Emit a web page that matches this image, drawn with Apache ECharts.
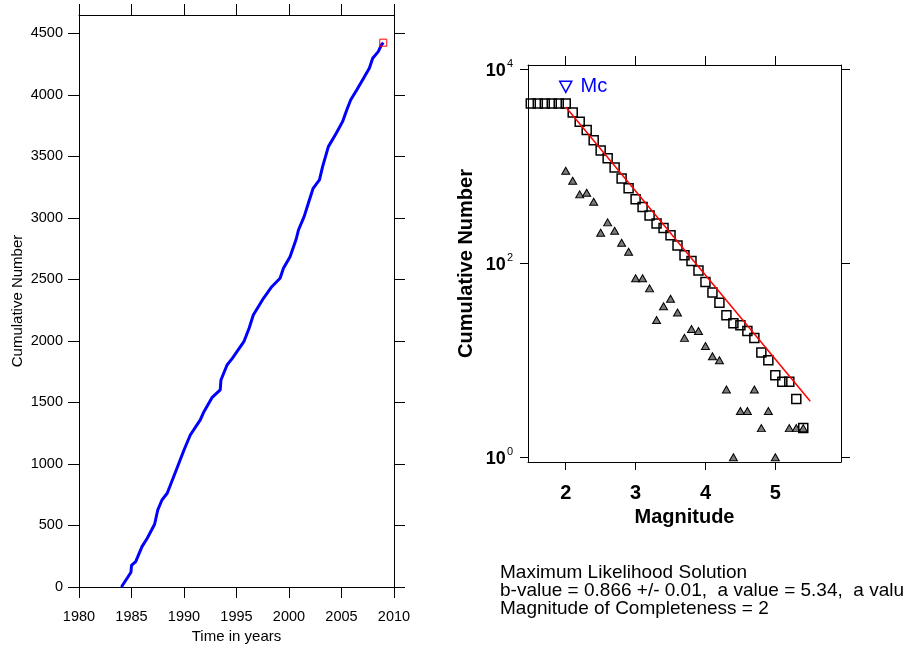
<!DOCTYPE html>
<html><head><meta charset="utf-8">
<script src="https://cdn.jsdelivr.net/npm/echarts@6/dist/echarts.min.js"></script>
<style>html,body{margin:0;padding:0;background:#fff}#c{width:904px;height:647px}</style>
</head><body><div id="c"></div>
<script>
// ---- Left panel: cumulative number of events vs time ----
const years = [1984.04, 1984.95, 1985.0, 1985.4, 1986.0, 1986.5, 1987.2, 1987.5, 1987.9, 1988.4, 1989.2, 1990.0, 1990.6, 1991.55, 1991.9, 1992.66, 1993.45, 1993.52, 1994.1, 1994.6, 1995.7, 1996.2, 1996.6, 1997.57, 1998.36, 1999.15, 1999.47, 2000.1, 2000.68, 2000.9, 2001.44, 2001.94, 2002.3, 2002.9, 2003.2, 2003.75, 2004.5, 2005.1, 2005.5, 2005.87, 2006.45, 2007.1, 2007.65, 2007.97, 2008.5, 2008.8, 2008.98];
const cumEvents = [0, 120, 175, 206, 328, 396, 510, 626, 707, 762, 937, 1114, 1236, 1358, 1425, 1539, 1602, 1683, 1805, 1859, 1994, 2103, 2211, 2347, 2441, 2510, 2591, 2685, 2827, 2902, 3011, 3146, 3241, 3309, 3417, 3580, 3688, 3783, 3878, 3959, 4041, 4136, 4217, 4298, 4352, 4406, 4425];
const lastEvent = [2008.98, 4425];
const yearTicks = [1980, 1985, 1990, 1995, 2000, 2005, 2010];
const countTicks = [0, 500, 1000, 1500, 2000, 2500, 3000, 3500, 4000, 4500];

// ---- Right panel: frequency-magnitude distribution ----
const magnitudes = [1.5, 1.6, 1.7, 1.8, 1.9, 2.0, 2.1, 2.2, 2.3, 2.4, 2.5, 2.6, 2.7, 2.8, 2.9, 3.0, 3.1, 3.2, 3.3, 3.4, 3.5, 3.6, 3.7, 3.8, 3.9, 4.0, 4.1, 4.2, 4.3, 4.4, 4.5, 4.6, 4.7, 4.8, 4.9, 5.0, 5.1, 5.2, 5.3, 5.4];
const cumulativeNumber = [4425, 4425, 4425, 4425, 4425, 4425, 3560, 2870, 2360, 1845, 1445, 1205, 970, 745, 590, 455, 380, 310, 256, 230, 194, 152, 121, 105, 84, 64, 50, 39, 29, 24, 23, 20, 17, 12, 10, 7, 6, 6, 4, 2];
const binMagnitudes = [2.0, 2.1, 2.2, 2.3, 2.4, 2.5, 2.6, 2.7, 2.8, 2.9, 3.0, 3.1, 3.2, 3.3, 3.4, 3.5, 3.6, 3.7, 3.8, 3.9, 4.0, 4.1, 4.2, 4.3, 4.4, 4.5, 4.6, 4.7, 4.8, 4.9, 5.0, 5.2, 5.3, 5.4];
const binNumber = [895, 706, 511, 531, 429, 206, 263, 216, 162, 131, 70, 70, 55, 26, 36, 43, 31, 17, 21, 20, 14, 11, 10, 5, 1, 3, 3, 5, 2, 3, 1, 2, 2, 2];
const fitMag = [2.0, 5.5];
const fitNumber = [4055, 3.78];
const mcPoint = [2.0, 6560];
const magTicks = [2, 3, 4, 5];
const logTickExponents = [0, 2, 4];
const infoLines = [
  'Maximum Likelihood Solution',
  'b-value = 0.866 +/- 0.01,  a value = 5.34,  a valu',
  'Magnitude of Completeness = 2'
];

const FONT = '"Liberation Sans", Arial, Helvetica, sans-serif';
const logMin = 0.895, logMax = 11000;
const magMin = 1.46, magMax = 5.94;

function boxAxis(extra) {
  return Object.assign({
    axisLine: { show: true, onZero: false, lineStyle: { color: '#000', width: 1 } },
    axisTick: { show: true, inside: false, length: 10, lineStyle: { color: '#000', width: 1 } },
    splitLine: { show: false },
    axisLabel: { show: false }
  }, extra);
}

const chart = echarts.init(document.getElementById('c'), null, { renderer: 'canvas' });
chart.setOption({
  animation: false,
  backgroundColor: '#fff',
  textStyle: { fontFamily: FONT },
  grid: [
    { left: 79, top: 15, width: 315, height: 572, containLabel: false, outerBoundsMode: 'none' },
    { left: 528, top: 65, width: 313, height: 397, containLabel: false, outerBoundsMode: 'none' }
  ],
  xAxis: [
    boxAxis({ type: 'value', gridIndex: 0, position: 'bottom', min: 1980, max: 2010,
      name: 'Time in years', nameLocation: 'middle', nameGap: 42,
      nameTextStyle: { fontSize: 15, color: '#000', fontFamily: FONT },
      axisTick: { show: true, inside: false, length: 11, customValues: yearTicks, lineStyle: { color: '#000' } },
      axisLabel: { show: true, customValues: yearTicks, formatter: v => String(v), fontSize: 14.5, color: '#000', margin: 22, fontFamily: FONT } }),
    boxAxis({ type: 'value', gridIndex: 0, position: 'top', min: 1980, max: 2010,
      axisTick: { show: true, inside: false, length: 11, customValues: yearTicks, lineStyle: { color: '#000' } } }),
    boxAxis({ type: 'value', gridIndex: 1, position: 'bottom', min: magMin, max: magMax,
      name: 'Magnitude', nameLocation: 'middle', nameGap: 45,
      nameTextStyle: { fontSize: 20, fontWeight: 'bold', color: '#000', fontFamily: FONT },
      axisTick: { show: true, inside: false, length: 8, customValues: magTicks, lineStyle: { color: '#000' } },
      axisLabel: { show: true, customValues: magTicks, fontSize: 20, fontWeight: 'bold', color: '#000', margin: 21, fontFamily: FONT } }),
    boxAxis({ type: 'value', gridIndex: 1, position: 'top', min: magMin, max: magMax,
      axisTick: { show: true, inside: false, length: 9, customValues: magTicks, lineStyle: { color: '#000' } } })
  ],
  yAxis: [
    boxAxis({ type: 'value', gridIndex: 0, position: 'left', min: 0, max: 4650,
      name: 'Cumulative Number', nameLocation: 'middle', nameGap: 54,
      nameTextStyle: { fontSize: 15, color: '#000', fontFamily: FONT },
      axisTick: { show: true, inside: false, length: 11, customValues: countTicks, lineStyle: { color: '#000' } },
      axisLabel: { show: true, customValues: countTicks, formatter: v => String(v), fontSize: 14.5, color: '#000', margin: 16, fontFamily: FONT } }),
    boxAxis({ type: 'value', gridIndex: 0, position: 'right', min: 0, max: 4650,
      axisTick: { show: true, inside: false, length: 11, customValues: countTicks, lineStyle: { color: '#000' } } }),
    // log axis carrying the data of the right panel
    { type: 'log', logBase: 10, gridIndex: 1, min: logMin, max: logMax, position: 'left',
      axisLine: { show: false }, axisTick: { show: false }, axisLabel: { show: false }, splitLine: { show: false }, minorTick: { show: false } },
    // left frame + labels for the log axis (exponent space, same range)
    boxAxis({ type: 'value', gridIndex: 1, position: 'left', min: Math.log10(logMin), max: Math.log10(logMax),
      name: 'Cumulative Number', nameLocation: 'middle', nameGap: 52,
      nameTextStyle: { fontSize: 20, fontWeight: 'bold', color: '#000', fontFamily: FONT },
      axisTick: { show: true, inside: false, length: 8, customValues: logTickExponents, lineStyle: { color: '#000' } },
      axisLabel: { show: true, customValues: logTickExponents, margin: 15, color: '#000',
        formatter: v => '{b|10}{s|' + Math.round(v) + '}',
        rich: { b: { fontSize: 18, fontWeight: 'bold', color: '#000', fontFamily: FONT, lineHeight: 22, verticalAlign: 'bottom' },
                s: { fontSize: 11, color: '#000', fontFamily: FONT, lineHeight: 22, verticalAlign: 'top', padding: [0, 0, 0, 1] } } } }),
    boxAxis({ type: 'value', gridIndex: 1, position: 'right', min: Math.log10(logMin), max: Math.log10(logMax),
      axisTick: { show: true, inside: false, length: 9, customValues: logTickExponents, lineStyle: { color: '#000' } } })
  ],
  series: [
    { type: 'line', xAxisIndex: 0, yAxisIndex: 0, data: years.map((y, i) => [y, cumEvents[i]]),
      showSymbol: false, symbol: 'none', lineStyle: { color: '#0000ff', width: 3 }, z: 3 },
    { type: 'scatter', xAxisIndex: 0, yAxisIndex: 0, data: [lastEvent], symbol: 'rect', symbolSize: 7,
      itemStyle: { color: 'rgba(0,0,0,0)', borderColor: '#ff0000', borderWidth: 1, opacity: 1 }, z: 4 },
    { type: 'scatter', xAxisIndex: 2, yAxisIndex: 2, data: binMagnitudes.map((m, i) => [m, binNumber[i]]),
      symbol: 'triangle', symbolSize: [8, 7],
      itemStyle: { color: '#7a7a7a', borderColor: '#000', borderWidth: 1, opacity: 1 }, z: 3 },
    { type: 'scatter', xAxisIndex: 2, yAxisIndex: 2, data: magnitudes.map((m, i) => [m, cumulativeNumber[i]]),
      symbol: 'rect', symbolSize: 9,
      itemStyle: { color: 'rgba(0,0,0,0)', borderColor: '#000', borderWidth: 1.5, opacity: 1 }, z: 4 },
    { type: 'line', xAxisIndex: 2, yAxisIndex: 2, data: fitMag.map((m, i) => [m, fitNumber[i]]),
      symbol: 'none', lineStyle: { color: '#ff0000', width: 1.5 }, z: 5 },
    { type: 'scatter', xAxisIndex: 2, yAxisIndex: 2, data: [mcPoint], symbol: 'triangle', symbolRotate: 180,
      symbolSize: [12, 11], itemStyle: { color: 'rgba(0,0,0,0)', borderColor: '#0000ff', borderWidth: 1.5, opacity: 1 },
      label: { show: true, position: 'right', distance: 8, formatter: 'Mc', color: '#0000ff', fontSize: 20, fontFamily: FONT },
      z: 5 }
  ],
  graphic: infoLines.map((t, i) => ({
    type: 'text', left: 500, top: 563 + i * 18,
    style: { text: t, fill: '#000', font: '19px ' + FONT }
  }))
});
</script>
</body></html>
